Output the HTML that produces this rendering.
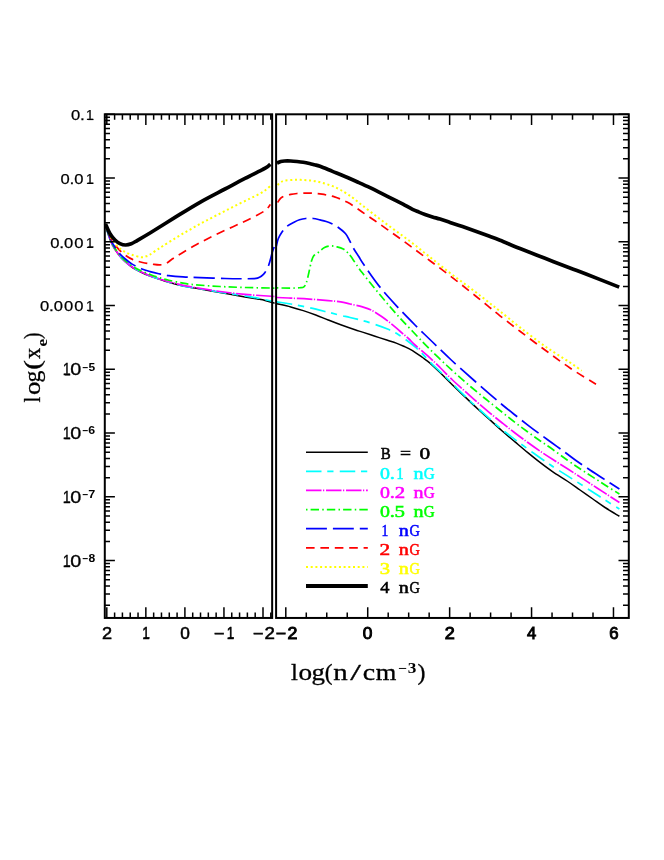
<!DOCTYPE html>
<html><head><meta charset="utf-8"><title>log(xe) vs log(n)</title>
<style>html,body{margin:0;padding:0;background:#fff}svg{display:block;will-change:transform}text{font-family:"Liberation Sans",sans-serif}.se{font-family:"Liberation Serif",serif}</style></head><body>
<svg width="664" height="860" viewBox="0 0 664 860">
<rect width="664" height="860" fill="#fff"/>
<g fill="none" stroke-linejoin="round">
<path d="M105.50 224.00C105.92 225.58 106.83 230.00 108.00 233.50C109.17 237.00 110.71 241.46 112.50 245.00C114.29 248.54 116.67 252.00 118.75 254.75C120.83 257.50 122.71 259.38 125.00 261.50C127.29 263.62 129.79 265.71 132.50 267.50C135.21 269.29 138.33 270.83 141.25 272.25C144.17 273.67 147.08 274.88 150.00 276.00C152.92 277.12 155.62 277.96 158.75 279.00C161.88 280.04 164.71 281.08 168.75 282.25C172.79 283.42 178.62 285.02 183.00 286.00C187.38 286.98 188.83 287.02 195.00 288.10C201.17 289.18 211.67 291.03 220.00 292.50C228.33 293.97 238.75 295.82 245.00 296.90C251.25 297.98 254.17 298.42 257.50 299.00C260.83 299.58 262.71 299.86 265.00 300.40C267.29 300.94 269.65 301.78 271.25 302.25C272.85 302.72 274.04 303.04 274.60 303.20" stroke="#000" stroke-width="1.50"/>
<path d="M277.00 303.75C279.29 304.27 286.38 305.76 290.75 306.90C295.12 308.04 299.08 309.25 303.25 310.60C307.42 311.95 311.58 313.43 315.75 315.00C319.92 316.57 324.08 318.37 328.25 320.00C332.42 321.63 336.29 323.17 340.75 324.80C345.21 326.43 351.38 328.58 355.00 329.80C358.62 331.02 359.17 331.03 362.50 332.10C365.83 333.18 370.83 334.89 375.00 336.25C379.17 337.61 383.96 339.11 387.50 340.25C391.04 341.39 393.54 342.10 396.25 343.10C398.96 344.10 401.04 345.00 403.75 346.25C406.46 347.50 409.38 348.73 412.50 350.60C415.62 352.48 419.58 355.42 422.50 357.50C425.42 359.58 427.08 360.60 430.00 363.10C432.92 365.60 436.25 368.85 440.00 372.50C443.75 376.15 448.33 380.93 452.50 385.00C456.67 389.07 460.83 392.94 465.00 396.90C469.17 400.86 473.33 404.92 477.50 408.75C481.67 412.58 485.83 416.15 490.00 419.90C494.17 423.65 498.33 427.58 502.50 431.25C506.67 434.92 510.83 438.38 515.00 441.90C519.17 445.42 523.33 448.98 527.50 452.40C531.67 455.82 535.83 459.20 540.00 462.40C544.17 465.60 547.92 468.46 552.50 471.60C557.08 474.74 562.92 478.18 567.50 481.25C572.08 484.32 575.83 487.08 580.00 490.00C584.17 492.92 588.33 495.83 592.50 498.75C596.67 501.67 600.52 504.58 605.00 507.50C609.48 510.42 617.00 514.79 619.40 516.25" stroke="#000" stroke-width="1.50"/>
<path d="M105.50 224.00C105.92 225.57 106.83 229.90 108.00 233.40C109.17 236.90 110.71 241.45 112.50 245.00C114.29 248.55 116.67 251.97 118.75 254.70C120.83 257.43 122.71 259.28 125.00 261.40C127.29 263.52 129.79 265.62 132.50 267.40C135.21 269.18 138.33 270.68 141.25 272.10C144.17 273.52 147.08 274.77 150.00 275.90C152.92 277.03 155.62 277.87 158.75 278.90C161.88 279.93 164.71 280.95 168.75 282.10C172.79 283.25 178.62 284.83 183.00 285.80C187.38 286.77 188.83 286.85 195.00 287.90C201.17 288.95 211.67 290.77 220.00 292.10C228.33 293.43 238.75 294.90 245.00 295.90C251.25 296.90 253.12 297.25 257.50 298.10C261.88 298.95 268.40 300.42 271.25 301.00C274.10 301.58 274.04 301.50 274.60 301.60" stroke="#0ff" stroke-width="1.70" stroke-dasharray="15.5 5.75 6.25 6.25"/>
<path d="M277.00 301.90C279.29 302.25 285.33 303.02 290.75 304.00C296.17 304.98 303.25 306.38 309.50 307.75C315.75 309.12 323.04 310.98 328.25 312.25C333.46 313.52 337.12 314.52 340.75 315.40C344.38 316.27 346.38 316.63 350.00 317.50C353.62 318.37 358.33 319.45 362.50 320.60C366.67 321.75 370.83 323.00 375.00 324.40C379.17 325.80 383.75 327.40 387.50 329.00C391.25 330.60 394.38 332.17 397.50 334.00C400.62 335.83 403.33 337.85 406.25 340.00C409.17 342.15 412.50 344.80 415.00 346.90C417.50 349.00 418.75 350.08 421.25 352.60C423.75 355.12 426.88 358.83 430.00 362.00C433.12 365.17 437.29 369.02 440.00 371.60C442.71 374.18 443.12 374.43 446.25 377.50C449.38 380.57 454.79 386.08 458.75 390.00C462.71 393.92 466.46 397.67 470.00 401.00C473.54 404.33 476.25 406.62 480.00 410.00C483.75 413.38 488.75 417.92 492.50 421.25C496.25 424.58 499.17 427.27 502.50 430.00C505.83 432.73 509.38 435.23 512.50 437.60C515.62 439.97 517.71 441.58 521.25 444.20C524.79 446.82 529.38 450.18 533.75 453.30C538.12 456.42 543.96 460.45 547.50 462.90C551.04 465.35 551.67 465.83 555.00 468.00C558.33 470.17 562.71 472.86 567.50 475.90C572.29 478.94 579.17 483.32 583.75 486.25C588.33 489.18 591.46 491.21 595.00 493.50C598.54 495.79 600.93 497.42 605.00 500.00C609.07 502.58 617.00 507.50 619.40 509.00" stroke="#0ff" stroke-width="1.70" stroke-dasharray="15.5 5.75 6.25 6.25"/>
<path d="M105.50 224.00C105.92 225.55 106.83 229.80 108.00 233.30C109.17 236.80 110.71 241.45 112.50 245.00C114.29 248.55 116.67 251.88 118.75 254.60C120.83 257.32 122.71 259.18 125.00 261.30C127.29 263.42 129.79 265.52 132.50 267.30C135.21 269.08 138.33 270.60 141.25 272.00C144.17 273.40 147.08 274.58 150.00 275.70C152.92 276.82 155.62 277.68 158.75 278.70C161.88 279.72 164.71 280.70 168.75 281.80C172.79 282.90 178.62 284.35 183.00 285.30C187.38 286.25 188.83 286.47 195.00 287.50C201.17 288.53 211.67 290.35 220.00 291.50C228.33 292.65 236.46 293.61 245.00 294.40C253.54 295.19 266.32 295.88 271.25 296.25C276.18 296.62 274.04 296.54 274.60 296.60" stroke="#f0f" stroke-width="1.70" stroke-dasharray="15.5 1.5 1.25 1.75"/>
<path d="M277.00 297.50C279.29 297.60 285.33 297.83 290.75 298.10C296.17 298.37 303.25 298.68 309.50 299.10C315.75 299.52 323.04 300.13 328.25 300.60C333.46 301.07 337.12 301.33 340.75 301.90C344.38 302.47 346.38 303.17 350.00 304.00C353.62 304.83 358.96 305.90 362.50 306.90C366.04 307.90 368.12 308.44 371.25 310.00C374.38 311.56 377.92 313.96 381.25 316.25C384.58 318.54 388.12 321.25 391.25 323.75C394.38 326.25 397.08 328.75 400.00 331.25C402.92 333.75 406.25 336.46 408.75 338.75C411.25 341.04 411.88 342.19 415.00 345.00C418.12 347.81 423.33 351.85 427.50 355.60C431.67 359.35 435.83 363.43 440.00 367.50C444.17 371.57 448.33 376.04 452.50 380.00C456.67 383.96 460.83 387.50 465.00 391.25C469.17 395.00 473.33 398.86 477.50 402.50C481.67 406.14 485.83 409.65 490.00 413.10C494.17 416.55 498.33 419.88 502.50 423.20C506.67 426.52 510.83 429.82 515.00 433.00C519.17 436.18 523.33 439.28 527.50 442.30C531.67 445.32 535.83 448.27 540.00 451.10C544.17 453.93 547.92 456.36 552.50 459.30C557.08 462.24 562.92 465.82 567.50 468.75C572.08 471.68 575.83 474.19 580.00 476.90C584.17 479.61 588.33 482.30 592.50 485.00C596.67 487.70 600.52 490.18 605.00 493.10C609.48 496.02 617.00 500.93 619.40 502.50" stroke="#f0f" stroke-width="1.70" stroke-dasharray="15.5 1.5 1.25 1.75"/>
<path d="M105.50 224.00C105.92 225.50 106.83 229.60 108.00 233.00C109.17 236.40 110.71 240.94 112.50 244.40C114.29 247.86 116.67 251.05 118.75 253.75C120.83 256.45 122.71 258.52 125.00 260.60C127.29 262.68 129.79 264.53 132.50 266.25C135.21 267.97 138.33 269.54 141.25 270.90C144.17 272.26 147.08 273.30 150.00 274.40C152.92 275.50 155.62 276.52 158.75 277.50C161.88 278.48 164.71 279.30 168.75 280.25C172.79 281.20 178.62 282.45 183.00 283.20C187.38 283.95 188.83 284.20 195.00 284.75C201.17 285.30 211.67 286.04 220.00 286.50C228.33 286.96 236.46 287.25 245.00 287.50C253.54 287.75 266.32 287.92 271.25 288.00C276.18 288.08 274.04 288.00 274.60 288.00" stroke="#0f0" stroke-width="1.70" stroke-dasharray="1.5 3.1 8.4 3.25"/>
<path d="M277.00 287.90C279.29 287.93 287.00 288.12 290.75 288.10C294.50 288.08 297.31 287.95 299.50 287.75C301.69 287.55 302.75 287.77 303.90 286.90C305.05 286.02 305.57 284.90 306.40 282.50C307.23 280.10 308.07 276.04 308.90 272.50C309.73 268.96 310.57 264.07 311.40 261.25C312.23 258.43 312.76 257.06 313.90 255.60C315.04 254.14 316.48 253.85 318.25 252.50C320.02 251.15 322.42 248.60 324.50 247.50C326.58 246.40 328.67 246.00 330.75 245.90C332.83 245.80 334.92 246.38 337.00 246.90C339.08 247.42 341.58 248.15 343.25 249.00C344.92 249.85 345.75 250.80 347.00 252.00C348.25 253.20 349.00 253.82 350.75 256.20C352.50 258.57 355.54 263.43 357.50 266.25C359.46 269.07 359.58 269.35 362.50 273.10C365.42 276.85 370.83 283.64 375.00 288.75C379.17 293.86 383.33 298.86 387.50 303.75C391.67 308.64 395.83 313.52 400.00 318.10C404.17 322.68 407.92 326.45 412.50 331.25C417.08 336.05 421.88 341.27 427.50 346.90C433.12 352.52 440.00 359.17 446.25 365.00C452.50 370.83 458.75 376.48 465.00 381.90C471.25 387.32 479.58 394.07 483.75 397.50C487.92 400.93 486.88 400.00 490.00 402.50C493.12 405.00 498.33 409.18 502.50 412.50C506.67 415.82 510.83 419.18 515.00 422.40C519.17 425.62 523.33 428.75 527.50 431.80C531.67 434.85 535.83 437.78 540.00 440.70C544.17 443.62 547.92 446.05 552.50 449.30C557.08 452.55 562.92 456.96 567.50 460.20C572.08 463.44 575.83 465.97 580.00 468.75C584.17 471.53 588.33 474.19 592.50 476.90C596.67 479.61 600.52 482.15 605.00 485.00C609.48 487.85 617.00 492.50 619.40 494.00" stroke="#0f0" stroke-width="1.70" stroke-dasharray="1.5 3.1 8.4 3.25"/>
<path d="M105.50 224.00C105.92 225.42 106.83 229.32 108.00 232.50C109.17 235.68 110.71 239.77 112.50 243.10C114.29 246.43 116.67 249.89 118.75 252.50C120.83 255.11 122.71 256.77 125.00 258.75C127.29 260.73 129.79 262.73 132.50 264.40C135.21 266.07 138.33 267.55 141.25 268.75C144.17 269.95 147.08 270.77 150.00 271.60C152.92 272.43 155.62 273.08 158.75 273.75C161.88 274.42 164.71 275.08 168.75 275.60C172.79 276.12 177.79 276.55 183.00 276.90C188.21 277.25 193.00 277.43 200.00 277.70C207.00 277.97 217.50 278.32 225.00 278.50C232.50 278.68 240.17 278.73 245.00 278.75C249.83 278.77 251.92 278.71 254.00 278.60C256.08 278.49 256.29 278.49 257.50 278.10C258.71 277.71 260.00 277.18 261.25 276.25C262.50 275.32 263.75 274.38 265.00 272.50C266.25 270.62 267.71 267.71 268.75 265.00C269.79 262.29 270.61 258.55 271.25 256.25C271.89 253.95 272.11 252.74 272.60 251.20C273.09 249.66 273.93 247.70 274.20 247.00" stroke="#00f" stroke-width="1.70" stroke-dasharray="20.9 6" stroke-dashoffset="-5.60"/>
<path d="M276.30 246.25C276.62 245.00 277.30 241.14 278.25 238.75C279.20 236.36 280.54 233.98 282.00 231.90C283.46 229.82 284.92 227.92 287.00 226.25C289.08 224.58 292.42 222.98 294.50 221.90C296.58 220.82 297.62 220.32 299.50 219.75C301.38 219.18 303.46 218.71 305.75 218.50C308.04 218.29 310.88 218.27 313.25 218.50C315.62 218.73 317.83 219.40 320.00 219.90C322.17 220.40 324.27 220.86 326.25 221.50C328.23 222.14 330.02 222.85 331.90 223.75C333.77 224.65 335.22 225.23 337.50 226.90C339.78 228.57 343.55 231.40 345.60 233.75C347.65 236.10 348.44 238.50 349.80 241.00C351.16 243.50 352.26 246.17 353.75 248.75C355.24 251.33 357.08 253.86 358.75 256.50C360.42 259.14 360.42 259.75 363.75 264.60C367.08 269.45 373.33 278.77 378.75 285.60C384.17 292.43 390.21 299.03 396.25 305.60C402.29 312.17 408.96 318.93 415.00 325.00C421.04 331.07 426.46 336.17 432.50 342.00C438.54 347.83 444.17 353.46 451.25 360.00C458.33 366.54 468.54 375.52 475.00 381.25C481.46 386.98 485.42 390.44 490.00 394.40C494.58 398.36 498.33 401.57 502.50 405.00C506.67 408.43 510.83 411.70 515.00 415.00C519.17 418.30 523.33 421.60 527.50 424.80C531.67 428.00 535.83 431.13 540.00 434.20C544.17 437.27 548.33 440.18 552.50 443.20C556.67 446.22 561.15 449.47 565.00 452.30C568.85 455.13 571.43 457.25 575.60 460.20C579.77 463.15 585.20 466.80 590.00 470.00C594.80 473.20 599.50 476.23 604.40 479.40C609.30 482.57 616.90 487.40 619.40 489.00" stroke="#00f" stroke-width="1.70" stroke-dasharray="20.9 6" stroke-dashoffset="3.50"/>
<path d="M105.50 224.00C105.92 225.25 106.83 228.62 108.00 231.50C109.17 234.38 110.71 238.27 112.50 241.25C114.29 244.23 116.67 247.11 118.75 249.40C120.83 251.69 122.71 253.33 125.00 255.00C127.29 256.67 129.58 258.15 132.50 259.40C135.42 260.65 139.17 261.70 142.50 262.50C145.83 263.30 149.58 263.80 152.50 264.20C155.42 264.60 157.71 265.03 160.00 264.90C162.29 264.77 164.17 264.42 166.25 263.40C168.33 262.38 170.00 260.47 172.50 258.80C175.00 257.13 177.71 255.53 181.25 253.40C184.79 251.27 189.58 248.33 193.75 246.00C197.92 243.67 202.08 241.53 206.25 239.40C210.42 237.27 214.38 235.28 218.75 233.20C223.12 231.12 228.12 228.88 232.50 226.90C236.88 224.92 240.83 223.28 245.00 221.30C249.17 219.32 254.17 216.78 257.50 215.00C260.83 213.22 263.25 211.80 265.00 210.60C266.75 209.40 267.12 208.83 268.00 207.80C268.88 206.77 269.92 204.97 270.30 204.40" stroke="#f00" stroke-width="1.70" stroke-dasharray="8.6 5.8" stroke-dashoffset="5.00"/>
<path d="M277.60 202.50C278.12 201.77 279.60 199.18 280.75 198.10C281.90 197.02 282.83 196.62 284.50 196.00C286.17 195.38 288.67 194.82 290.75 194.40C292.83 193.98 294.92 193.72 297.00 193.50C299.08 193.28 301.17 193.17 303.25 193.10C305.33 193.03 307.42 193.03 309.50 193.10C311.58 193.17 313.67 193.32 315.75 193.50C317.83 193.68 319.92 193.88 322.00 194.20C324.08 194.52 326.17 194.95 328.25 195.40C330.33 195.85 332.42 196.27 334.50 196.90C336.58 197.53 338.67 198.33 340.75 199.20C342.83 200.07 344.92 201.00 347.00 202.10C349.08 203.20 350.67 204.12 353.25 205.80C355.83 207.48 358.88 209.70 362.50 212.20C366.12 214.70 370.83 217.90 375.00 220.80C379.17 223.70 383.33 226.65 387.50 229.60C391.67 232.55 395.83 235.48 400.00 238.50C404.17 241.52 408.33 244.62 412.50 247.70C416.67 250.78 420.83 253.90 425.00 257.00C429.17 260.10 433.33 263.17 437.50 266.30C441.67 269.43 445.83 272.60 450.00 275.80C454.17 279.00 458.33 282.22 462.50 285.50C466.67 288.78 470.83 292.15 475.00 295.50C479.17 298.85 483.33 302.22 487.50 305.60C491.67 308.98 494.58 311.53 500.00 315.80C505.42 320.07 512.50 325.55 520.00 331.25C527.50 336.95 536.67 343.88 545.00 350.00C553.33 356.12 561.50 362.29 570.00 368.00C578.50 373.71 591.67 381.54 596.00 384.25" stroke="#f00" stroke-width="1.70" stroke-dasharray="8.6 5.8"/>
<path d="M105.50 224.00C105.92 225.17 106.83 228.33 108.00 231.00C109.17 233.67 110.71 237.25 112.50 240.00C114.29 242.75 116.67 245.52 118.75 247.50C120.83 249.48 122.71 250.65 125.00 251.90C127.29 253.15 129.79 254.12 132.50 255.00C135.21 255.88 138.96 256.98 141.25 257.20C143.54 257.42 144.79 256.73 146.25 256.30C147.71 255.87 148.33 255.60 150.00 254.60C151.67 253.60 154.17 251.69 156.25 250.30C158.33 248.91 159.38 248.23 162.50 246.25C165.62 244.27 170.83 240.94 175.00 238.40C179.17 235.86 183.33 233.40 187.50 231.00C191.67 228.60 195.83 226.27 200.00 224.00C204.17 221.73 208.33 219.57 212.50 217.40C216.67 215.23 220.83 213.13 225.00 211.00C229.17 208.87 233.33 206.67 237.50 204.60C241.67 202.53 246.25 200.43 250.00 198.60C253.75 196.77 257.33 195.07 260.00 193.60C262.67 192.13 264.23 191.13 266.00 189.80C267.77 188.47 269.83 186.30 270.60 185.60" stroke="#ff0" stroke-width="2.00" stroke-dasharray="2 2.7"/>
<path d="M277.60 185.00C278.12 184.54 279.60 182.98 280.75 182.25C281.90 181.52 282.83 180.97 284.50 180.60C286.17 180.22 288.67 180.14 290.75 180.00C292.83 179.86 294.92 179.75 297.00 179.75C299.08 179.75 301.17 179.89 303.25 180.00C305.33 180.11 307.42 180.19 309.50 180.40C311.58 180.61 313.67 180.85 315.75 181.25C317.83 181.65 319.92 182.24 322.00 182.80C324.08 183.36 326.17 183.92 328.25 184.60C330.33 185.28 332.42 186.00 334.50 186.90C336.58 187.80 338.67 188.83 340.75 190.00C342.83 191.17 344.92 192.55 347.00 193.90C349.08 195.25 350.67 196.15 353.25 198.10C355.83 200.05 358.88 202.75 362.50 205.60C366.12 208.45 370.83 212.00 375.00 215.20C379.17 218.40 383.33 221.68 387.50 224.80C391.67 227.92 395.83 230.83 400.00 233.90C404.17 236.97 408.33 239.98 412.50 243.20C416.67 246.42 420.83 249.87 425.00 253.20C429.17 256.53 433.33 259.90 437.50 263.20C441.67 266.50 445.83 269.82 450.00 273.00C454.17 276.18 458.33 279.20 462.50 282.30C466.67 285.40 470.83 288.42 475.00 291.60C479.17 294.78 483.33 298.13 487.50 301.40C491.67 304.67 494.58 306.87 500.00 311.20C505.42 315.53 512.50 321.56 520.00 327.40C527.50 333.24 536.67 340.40 545.00 346.25C553.33 352.10 563.88 358.42 570.00 362.50C576.12 366.58 579.75 369.38 581.70 370.75" stroke="#ff0" stroke-width="2.00" stroke-dasharray="2 2.7"/>
<path d="M105.50 224.00C106.25 225.62 108.42 231.08 110.00 233.75C111.58 236.42 113.33 238.36 115.00 240.00C116.67 241.64 118.23 242.77 120.00 243.60C121.77 244.43 123.72 244.97 125.60 245.00C127.47 245.03 129.27 244.53 131.25 243.75C133.23 242.97 134.38 242.09 137.50 240.30C140.62 238.51 143.75 236.82 150.00 233.00C156.25 229.18 166.67 222.52 175.00 217.40C183.33 212.28 191.67 207.03 200.00 202.30C208.33 197.57 217.50 192.98 225.00 189.00C232.50 185.02 238.75 181.63 245.00 178.40C251.25 175.17 258.75 171.53 262.50 169.60C266.25 167.67 266.20 167.70 267.50 166.80C268.80 165.90 269.83 164.63 270.30 164.20" stroke="#000" stroke-width="3.70"/>
<path d="M277.00 163.10C277.62 162.83 279.50 161.85 280.75 161.50C282.00 161.15 282.83 161.08 284.50 161.00C286.17 160.92 288.67 160.92 290.75 161.00C292.83 161.08 294.92 161.29 297.00 161.50C299.08 161.71 301.17 161.92 303.25 162.25C305.33 162.58 307.62 163.07 309.50 163.50C311.38 163.93 312.75 164.33 314.50 164.80C316.25 165.27 317.00 165.20 320.00 166.30C323.00 167.40 328.33 169.70 332.50 171.40C336.67 173.10 340.83 174.73 345.00 176.50C349.17 178.27 353.33 180.13 357.50 182.00C361.67 183.87 365.83 185.72 370.00 187.70C374.17 189.68 378.33 191.82 382.50 193.90C386.67 195.98 391.58 198.48 395.00 200.20C398.42 201.92 400.08 202.68 403.00 204.20C405.92 205.72 409.83 207.98 412.50 209.30C415.17 210.62 416.92 211.25 419.00 212.10C421.08 212.95 422.75 213.60 425.00 214.40C427.25 215.20 430.00 216.12 432.50 216.90C435.00 217.68 437.08 218.18 440.00 219.10C442.92 220.02 446.25 221.15 450.00 222.40C453.75 223.65 458.33 225.17 462.50 226.60C466.67 228.03 470.83 229.50 475.00 231.00C479.17 232.50 483.33 234.05 487.50 235.60C491.67 237.15 494.58 238.15 500.00 240.30C505.42 242.45 512.50 245.50 520.00 248.50C527.50 251.50 536.67 255.05 545.00 258.30C553.33 261.55 563.17 265.38 570.00 268.00C576.83 270.62 577.80 270.82 586.00 274.00C594.20 277.18 613.67 284.92 619.20 287.10" stroke="#000" stroke-width="3.70"/>
</g>
<path d="M104.80 605.19 H110.00M623.00 605.19 H628.80M104.80 593.96 H110.00M623.00 593.96 H628.80M104.80 585.99 H110.00M623.00 585.99 H628.80M104.80 579.81 H110.00M623.00 579.81 H628.80M104.80 574.77 H110.00M623.00 574.77 H628.80M104.80 570.50 H110.00M623.00 570.50 H628.80M104.80 566.80 H110.00M623.00 566.80 H628.80M104.80 563.54 H110.00M623.00 563.54 H628.80M104.80 560.62 H114.90M618.50 560.62 H628.80M104.80 541.43 H110.00M623.00 541.43 H628.80M104.80 530.20 H110.00M623.00 530.20 H628.80M104.80 522.23 H110.00M623.00 522.23 H628.80M104.80 516.05 H110.00M623.00 516.05 H628.80M104.80 511.01 H110.00M623.00 511.01 H628.80M104.80 506.74 H110.00M623.00 506.74 H628.80M104.80 503.04 H110.00M623.00 503.04 H628.80M104.80 499.78 H110.00M623.00 499.78 H628.80M104.80 496.86 H114.90M618.50 496.86 H628.80M104.80 477.67 H110.00M623.00 477.67 H628.80M104.80 466.44 H110.00M623.00 466.44 H628.80M104.80 458.47 H110.00M623.00 458.47 H628.80M104.80 452.29 H110.00M623.00 452.29 H628.80M104.80 447.25 H110.00M623.00 447.25 H628.80M104.80 442.98 H110.00M623.00 442.98 H628.80M104.80 439.28 H110.00M623.00 439.28 H628.80M104.80 436.02 H110.00M623.00 436.02 H628.80M104.80 433.10 H114.90M618.50 433.10 H628.80M104.80 413.91 H110.00M623.00 413.91 H628.80M104.80 402.68 H110.00M623.00 402.68 H628.80M104.80 394.71 H110.00M623.00 394.71 H628.80M104.80 388.53 H110.00M623.00 388.53 H628.80M104.80 383.49 H110.00M623.00 383.49 H628.80M104.80 379.22 H110.00M623.00 379.22 H628.80M104.80 375.52 H110.00M623.00 375.52 H628.80M104.80 372.26 H110.00M623.00 372.26 H628.80M104.80 369.34 H114.90M618.50 369.34 H628.80M104.80 350.15 H110.00M623.00 350.15 H628.80M104.80 338.92 H110.00M623.00 338.92 H628.80M104.80 330.95 H110.00M623.00 330.95 H628.80M104.80 324.77 H110.00M623.00 324.77 H628.80M104.80 319.73 H110.00M623.00 319.73 H628.80M104.80 315.46 H110.00M623.00 315.46 H628.80M104.80 311.76 H110.00M623.00 311.76 H628.80M104.80 308.50 H110.00M623.00 308.50 H628.80M104.80 305.58 H114.90M618.50 305.58 H628.80M104.80 286.39 H110.00M623.00 286.39 H628.80M104.80 275.16 H110.00M623.00 275.16 H628.80M104.80 267.19 H110.00M623.00 267.19 H628.80M104.80 261.01 H110.00M623.00 261.01 H628.80M104.80 255.97 H110.00M623.00 255.97 H628.80M104.80 251.70 H110.00M623.00 251.70 H628.80M104.80 248.00 H110.00M623.00 248.00 H628.80M104.80 244.74 H110.00M623.00 244.74 H628.80M104.80 241.82 H114.90M618.50 241.82 H628.80M104.80 222.63 H110.00M623.00 222.63 H628.80M104.80 211.40 H110.00M623.00 211.40 H628.80M104.80 203.43 H110.00M623.00 203.43 H628.80M104.80 197.25 H110.00M623.00 197.25 H628.80M104.80 192.21 H110.00M623.00 192.21 H628.80M104.80 187.94 H110.00M623.00 187.94 H628.80M104.80 184.24 H110.00M623.00 184.24 H628.80M104.80 180.98 H110.00M623.00 180.98 H628.80M104.80 178.06 H114.90M618.50 178.06 H628.80M104.80 158.87 H110.00M623.00 158.87 H628.80M104.80 147.64 H110.00M623.00 147.64 H628.80M104.80 139.67 H110.00M623.00 139.67 H628.80M104.80 133.49 H110.00M623.00 133.49 H628.80M104.80 128.45 H110.00M623.00 128.45 H628.80M104.80 124.18 H110.00M623.00 124.18 H628.80M104.80 120.48 H110.00M623.00 120.48 H628.80M104.80 117.22 H110.00M623.00 117.22 H628.80M104.80 114.30 H114.90M618.50 114.30 H628.80M106.80 607.35 V617.95M106.80 114.30 V124.90M114.61 612.45 V617.95M114.61 114.30 V119.80M122.42 612.45 V617.95M122.42 114.30 V119.80M130.23 612.45 V617.95M130.23 114.30 V119.80M138.04 612.45 V617.95M138.04 114.30 V119.80M145.85 607.35 V617.95M145.85 114.30 V124.90M153.66 612.45 V617.95M153.66 114.30 V119.80M161.47 612.45 V617.95M161.47 114.30 V119.80M169.28 612.45 V617.95M169.28 114.30 V119.80M177.09 612.45 V617.95M177.09 114.30 V119.80M184.90 607.35 V617.95M184.90 114.30 V124.90M192.71 612.45 V617.95M192.71 114.30 V119.80M200.52 612.45 V617.95M200.52 114.30 V119.80M208.33 612.45 V617.95M208.33 114.30 V119.80M216.14 612.45 V617.95M216.14 114.30 V119.80M223.95 607.35 V617.95M223.95 114.30 V124.90M231.76 612.45 V617.95M231.76 114.30 V119.80M239.57 612.45 V617.95M239.57 114.30 V119.80M247.38 612.45 V617.95M247.38 114.30 V119.80M255.19 612.45 V617.95M255.19 114.30 V119.80M263.00 607.35 V617.95M263.00 114.30 V124.90M270.81 612.45 V617.95M270.81 114.30 V119.80M285.80 607.35 V617.95M285.80 114.30 V124.90M306.28 612.45 V617.95M306.28 114.30 V119.80M326.76 612.45 V617.95M326.76 114.30 V119.80M347.24 612.45 V617.95M347.24 114.30 V119.80M367.72 607.35 V617.95M367.72 114.30 V124.90M388.20 612.45 V617.95M388.20 114.30 V119.80M408.68 612.45 V617.95M408.68 114.30 V119.80M429.16 612.45 V617.95M429.16 114.30 V119.80M449.64 607.35 V617.95M449.64 114.30 V124.90M470.12 612.45 V617.95M470.12 114.30 V119.80M490.60 612.45 V617.95M490.60 114.30 V119.80M511.08 612.45 V617.95M511.08 114.30 V119.80M531.56 607.35 V617.95M531.56 114.30 V124.90M552.04 612.45 V617.95M552.04 114.30 V119.80M572.52 612.45 V617.95M572.52 114.30 V119.80M593.00 612.45 V617.95M593.00 114.30 V119.80M613.48 607.35 V617.95M613.48 114.30 V124.90" stroke="#000" stroke-width="1.50" fill="none"/>
<g fill="none" stroke="#000" stroke-width="2.00">
<rect x="104.80" y="114.30" width="167.35" height="503.65"/>
<rect x="276.10" y="114.30" width="352.70" height="503.65"/>
</g>
<path d="M88.11 119.48H93.51" stroke="#000" stroke-width="1.25" fill="none"/>
<text transform="translate(86.10 120.10) scale(0.900 1)" font-size="15.20" stroke="#000" stroke-width="0.25">1</text>
<text transform="translate(80.06 120.10) scale(1.143 1)" font-size="15.20" stroke="#000" stroke-width="0.25">.</text>
<text transform="translate(70.96 120.10) scale(1.090 1)" font-size="15.20" stroke="#000" stroke-width="0.25">0</text>
<path d="M88.11 183.24H93.51" stroke="#000" stroke-width="1.25" fill="none"/>
<text transform="translate(86.10 183.86) scale(0.900 1)" font-size="15.20" stroke="#000" stroke-width="0.25">1</text>
<text transform="translate(74.21 183.86) scale(1.090 1)" font-size="15.20" stroke="#000" stroke-width="0.25">0</text>
<text transform="translate(69.51 183.86) scale(1.143 1)" font-size="15.20" stroke="#000" stroke-width="0.25">.</text>
<text transform="translate(60.41 183.86) scale(1.090 1)" font-size="15.20" stroke="#000" stroke-width="0.25">0</text>
<path d="M88.11 247.00H93.51" stroke="#000" stroke-width="1.25" fill="none"/>
<text transform="translate(86.10 247.62) scale(0.900 1)" font-size="15.20" stroke="#000" stroke-width="0.25">1</text>
<text transform="translate(74.21 247.62) scale(1.090 1)" font-size="15.20" stroke="#000" stroke-width="0.25">0</text>
<text transform="translate(64.01 247.62) scale(1.090 1)" font-size="15.20" stroke="#000" stroke-width="0.25">0</text>
<text transform="translate(59.31 247.62) scale(1.143 1)" font-size="15.20" stroke="#000" stroke-width="0.25">.</text>
<text transform="translate(50.21 247.62) scale(1.090 1)" font-size="15.20" stroke="#000" stroke-width="0.25">0</text>
<path d="M88.11 310.76H93.51" stroke="#000" stroke-width="1.25" fill="none"/>
<text transform="translate(86.10 311.38) scale(0.900 1)" font-size="15.20" stroke="#000" stroke-width="0.25">1</text>
<text transform="translate(74.21 311.38) scale(1.090 1)" font-size="15.20" stroke="#000" stroke-width="0.25">0</text>
<text transform="translate(64.01 311.38) scale(1.090 1)" font-size="15.20" stroke="#000" stroke-width="0.25">0</text>
<text transform="translate(53.81 311.38) scale(1.090 1)" font-size="15.20" stroke="#000" stroke-width="0.25">0</text>
<text transform="translate(49.11 311.38) scale(1.143 1)" font-size="15.20" stroke="#000" stroke-width="0.25">.</text>
<text transform="translate(40.01 311.38) scale(1.090 1)" font-size="15.20" stroke="#000" stroke-width="0.25">0</text>
<path d="M64.84 374.82H70.24" stroke="#000" stroke-width="1.25" fill="none"/>
<text transform="translate(62.64 375.44) scale(0.900 1)" font-size="15.80" stroke="#000" stroke-width="0.30">1</text>
<text transform="translate(70.16 375.44) scale(1.253 1)" font-size="15.80" stroke="#000" stroke-width="0.30">0</text>
<text transform="translate(82.60 370.64) scale(0.990 1)" font-size="10.20" font-weight="bold">−</text>
<text transform="translate(88.44 370.64) scale(1.176 1)" font-size="10.20" font-weight="bold">5</text>
<path d="M64.84 438.58H70.24" stroke="#000" stroke-width="1.25" fill="none"/>
<text transform="translate(62.64 439.20) scale(0.900 1)" font-size="15.80" stroke="#000" stroke-width="0.30">1</text>
<text transform="translate(70.16 439.20) scale(1.253 1)" font-size="15.80" stroke="#000" stroke-width="0.30">0</text>
<text transform="translate(82.60 434.40) scale(0.990 1)" font-size="10.20" font-weight="bold">−</text>
<text transform="translate(88.37 434.40) scale(1.213 1)" font-size="10.20" font-weight="bold">6</text>
<path d="M64.84 502.34H70.24" stroke="#000" stroke-width="1.25" fill="none"/>
<text transform="translate(62.64 502.96) scale(0.900 1)" font-size="15.80" stroke="#000" stroke-width="0.30">1</text>
<text transform="translate(70.16 502.96) scale(1.253 1)" font-size="15.80" stroke="#000" stroke-width="0.30">0</text>
<text transform="translate(82.60 498.16) scale(0.990 1)" font-size="10.20" font-weight="bold">−</text>
<text transform="translate(88.29 498.16) scale(1.238 1)" font-size="10.20" font-weight="bold">7</text>
<path d="M64.84 566.10H70.24" stroke="#000" stroke-width="1.25" fill="none"/>
<text transform="translate(62.64 566.72) scale(0.900 1)" font-size="15.80" stroke="#000" stroke-width="0.30">1</text>
<text transform="translate(70.16 566.72) scale(1.253 1)" font-size="15.80" stroke="#000" stroke-width="0.30">0</text>
<text transform="translate(82.60 561.92) scale(0.990 1)" font-size="10.20" font-weight="bold">−</text>
<text transform="translate(88.44 561.92) scale(1.188 1)" font-size="10.20" font-weight="bold">8</text>
<text transform="translate(102.09 638.50) scale(1.162 1)" font-size="15.60" stroke="#000" stroke-width="0.50">2</text>
<path d="M144.24 637.88H149.64" stroke="#000" stroke-width="1.25" fill="none"/>
<text transform="translate(142.37 638.50) scale(0.850 1)" font-size="15.60" stroke="#000" stroke-width="0.50">1</text>
<text transform="translate(180.26 638.50) scale(1.108 1)" font-size="15.60" stroke="#000" stroke-width="0.50">0</text>
<text transform="translate(213.64 638.50) scale(1.163 1)" font-size="15.60" stroke="#000" stroke-width="0.50">−</text>
<path d="M228.54 637.88H233.94" stroke="#000" stroke-width="1.25" fill="none"/>
<text transform="translate(226.67 638.50) scale(0.850 1)" font-size="15.60" stroke="#000" stroke-width="0.50">1</text>
<text transform="translate(252.74 638.50) scale(1.163 1)" font-size="15.60" stroke="#000" stroke-width="0.50">−</text>
<text transform="translate(264.42 638.50) scale(1.198 1)" font-size="15.60" stroke="#000" stroke-width="0.50">2</text>
<text transform="translate(275.78 638.50) scale(1.110 1)" font-size="15.60" stroke="#000" stroke-width="0.90">−</text>
<text transform="translate(287.56 638.50) scale(1.141 1)" font-size="15.60" stroke="#000" stroke-width="0.90">2</text>
<text transform="translate(362.86 638.50) scale(1.108 1)" font-size="15.60" stroke="#000" stroke-width="0.90">0</text>
<text transform="translate(444.65 638.50) scale(1.155 1)" font-size="15.60" stroke="#000" stroke-width="0.90">2</text>
<text transform="translate(527.12 638.50) scale(1.066 1)" font-size="15.60" stroke="#000" stroke-width="0.90">4</text>
<text transform="translate(609.21 638.50) scale(1.075 1)" font-size="15.60" stroke="#000" stroke-width="0.90">6</text>
<text transform="translate(290.90 679.60) scale(1.097 1)" font-size="22.60" class="se" stroke="#000" stroke-width="0.30">l</text>
<text transform="translate(298.56 679.60) scale(1.206 1)" font-size="22.60" class="se" stroke="#000" stroke-width="0.30">o</text>
<text transform="translate(311.44 679.60) scale(1.190 1)" font-size="22.60" class="se" stroke="#000" stroke-width="0.30">g</text>
<text transform="translate(324.85 679.60) scale(1.032 1)" font-size="22.60" class="se" stroke="#000" stroke-width="0.30">(</text>
<text transform="translate(333.32 679.60) scale(1.280 1)" font-size="22.60" class="se" stroke="#000" stroke-width="0.30">n</text>
<text transform="translate(350.34 679.60) scale(1.700 1)" font-size="22.60" class="se" stroke="#000" stroke-width="0.30">/</text>
<text transform="translate(362.79 679.60) scale(1.233 1)" font-size="22.60" class="se" stroke="#000" stroke-width="0.30">c</text>
<text transform="translate(375.87 679.60) scale(1.170 1)" font-size="22.60" class="se" stroke="#000" stroke-width="0.30">m</text>
<text transform="translate(417.43 679.60) scale(1.055 1)" font-size="22.60" class="se" stroke="#000" stroke-width="0.30">)</text>
<text transform="translate(398.21 673.30) scale(1.125 1)" font-size="14.00" class="se" font-weight="bold">−</text>
<text transform="translate(407.70 672.80) scale(1.229 1)" font-size="14.00" class="se" font-weight="bold">3</text>
<text transform="translate(40.20 402.30) rotate(-90) translate(-0.27 0) scale(0.922 1)" font-size="22.60" class="se" stroke="#000" stroke-width="0.30">l</text>
<text transform="translate(40.20 402.30) rotate(-90) translate(7.27 0) scale(1.190 1)" font-size="22.60" class="se" stroke="#000" stroke-width="0.30">o</text>
<text transform="translate(40.20 402.30) rotate(-90) translate(19.88 0) scale(1.048 1)" font-size="22.60" class="se" stroke="#000" stroke-width="0.30">g</text>
<text transform="translate(40.20 402.30) rotate(-90) translate(32.64 0) scale(1.284 1)" font-size="22.60" class="se" stroke="#000" stroke-width="0.30">(</text>
<text transform="translate(40.20 402.30) rotate(-90) translate(43.42 0) scale(0.996 1)" font-size="22.60" class="se" stroke="#000" stroke-width="0.30">x</text>
<text transform="translate(40.20 402.30) rotate(-90) translate(63.37 0) scale(0.851 1)" font-size="22.60" class="se" stroke="#000" stroke-width="0.30">)</text>
<text transform="translate(46.80 402.30) rotate(-90) translate(55.69 0) scale(1.160 1)" font-size="15.00" class="se" font-weight="bold">e</text>
<path d="M306.00 452.15 H367.80" stroke="#000" stroke-width="1.50" fill="none"/>
<text transform="translate(380.82 459.45) scale(0.872 1)" font-size="17.20" class="se" stroke="#000" stroke-width="0.55">B</text>
<text transform="translate(399.95 459.45) scale(1.138 1)" font-size="17.20" class="se" stroke="#000" stroke-width="0.55">=</text>
<text transform="translate(419.62 459.45) scale(1.239 1)" font-size="17.20" class="se" stroke="#000" stroke-width="0.55">0</text>
<path d="M306.00 471.28 H367.80" stroke="#0ff" stroke-width="1.70" fill="none" stroke-dasharray="15.5 5.75 6.25 6.25"/>
<text transform="translate(379.98 478.58) scale(1.156 1)" font-size="17.20" class="se" fill="#0ff" stroke="#0ff" stroke-width="0.55">0</text>
<text transform="translate(389.85 478.58) scale(1.187 1)" font-size="17.20" class="se" fill="#0ff" stroke="#0ff" stroke-width="0.55">.</text>
<text transform="translate(396.47 478.58) scale(0.827 1)" font-size="17.20" class="se" fill="#0ff" stroke="#0ff" stroke-width="0.55">1</text>
<text transform="translate(413.47 478.58) scale(1.169 1)" font-size="17.20" class="se" fill="#0ff" stroke="#0ff" stroke-width="0.55">n</text>
<text transform="translate(423.87 478.58) scale(0.881 1)" font-size="17.20" class="se" fill="#0ff" stroke="#0ff" stroke-width="0.55">G</text>
<path d="M306.00 490.41 H367.80" stroke="#f0f" stroke-width="1.70" fill="none" stroke-dasharray="15.5 1.5 1.25 1.75"/>
<text transform="translate(379.98 497.71) scale(1.156 1)" font-size="17.20" class="se" fill="#f0f" stroke="#f0f" stroke-width="0.55">0</text>
<text transform="translate(389.85 497.71) scale(1.187 1)" font-size="17.20" class="se" fill="#f0f" stroke="#f0f" stroke-width="0.55">.</text>
<text transform="translate(394.74 497.71) scale(1.214 1)" font-size="17.20" class="se" fill="#f0f" stroke="#f0f" stroke-width="0.55">2</text>
<text transform="translate(413.47 497.71) scale(1.169 1)" font-size="17.20" class="se" fill="#f0f" stroke="#f0f" stroke-width="0.55">n</text>
<text transform="translate(423.87 497.71) scale(0.881 1)" font-size="17.20" class="se" fill="#f0f" stroke="#f0f" stroke-width="0.55">G</text>
<path d="M306.00 509.54 H367.80" stroke="#0f0" stroke-width="1.70" fill="none" stroke-dasharray="1.5 3.1 8.4 3.25"/>
<text transform="translate(379.98 516.84) scale(1.156 1)" font-size="17.20" class="se" fill="#0f0" stroke="#0f0" stroke-width="0.55">0</text>
<text transform="translate(389.85 516.84) scale(1.187 1)" font-size="17.20" class="se" fill="#0f0" stroke="#0f0" stroke-width="0.55">.</text>
<text transform="translate(394.42 516.84) scale(1.214 1)" font-size="17.20" class="se" fill="#0f0" stroke="#0f0" stroke-width="0.55">5</text>
<text transform="translate(413.47 516.84) scale(1.169 1)" font-size="17.20" class="se" fill="#0f0" stroke="#0f0" stroke-width="0.55">n</text>
<text transform="translate(423.87 516.84) scale(0.881 1)" font-size="17.20" class="se" fill="#0f0" stroke="#0f0" stroke-width="0.55">G</text>
<path d="M306.00 528.67 H367.80" stroke="#00f" stroke-width="1.70" fill="none" stroke-dasharray="20.9 6"/>
<text transform="translate(381.61 535.97) scale(0.794 1)" font-size="17.20" class="se" fill="#00f" stroke="#00f" stroke-width="0.55">1</text>
<text transform="translate(398.77 535.97) scale(1.169 1)" font-size="17.20" class="se" fill="#00f" stroke="#00f" stroke-width="0.55">n</text>
<text transform="translate(409.50 535.97) scale(0.836 1)" font-size="17.20" class="se" fill="#00f" stroke="#00f" stroke-width="0.55">G</text>
<path d="M306.00 547.80 H367.80" stroke="#f00" stroke-width="1.70" fill="none" stroke-dasharray="8.6 5.8"/>
<text transform="translate(379.61 555.10) scale(1.243 1)" font-size="17.20" class="se" fill="#f00" stroke="#f00" stroke-width="0.55">2</text>
<text transform="translate(398.77 555.10) scale(1.169 1)" font-size="17.20" class="se" fill="#f00" stroke="#f00" stroke-width="0.55">n</text>
<text transform="translate(409.50 555.10) scale(0.836 1)" font-size="17.20" class="se" fill="#f00" stroke="#f00" stroke-width="0.55">G</text>
<path d="M306.00 566.93 H367.80" stroke="#ff0" stroke-width="2.00" fill="none" stroke-dasharray="2 2.7"/>
<text transform="translate(379.65 574.23) scale(1.198 1)" font-size="17.20" class="se" fill="#ff0" stroke="#ff0" stroke-width="0.55">3</text>
<text transform="translate(398.77 574.23) scale(1.169 1)" font-size="17.20" class="se" fill="#ff0" stroke="#ff0" stroke-width="0.55">n</text>
<text transform="translate(409.50 574.23) scale(0.836 1)" font-size="17.20" class="se" fill="#ff0" stroke="#ff0" stroke-width="0.55">G</text>
<path d="M306.00 586.06 H367.80" stroke="#000" stroke-width="3.90" fill="none"/>
<text transform="translate(380.21 593.36) scale(1.069 1)" font-size="17.20" class="se" stroke="#000" stroke-width="0.55">4</text>
<text transform="translate(398.77 593.36) scale(1.169 1)" font-size="17.20" class="se" stroke="#000" stroke-width="0.55">n</text>
<text transform="translate(409.50 593.36) scale(0.836 1)" font-size="17.20" class="se" stroke="#000" stroke-width="0.55">G</text>
</svg></body></html>
